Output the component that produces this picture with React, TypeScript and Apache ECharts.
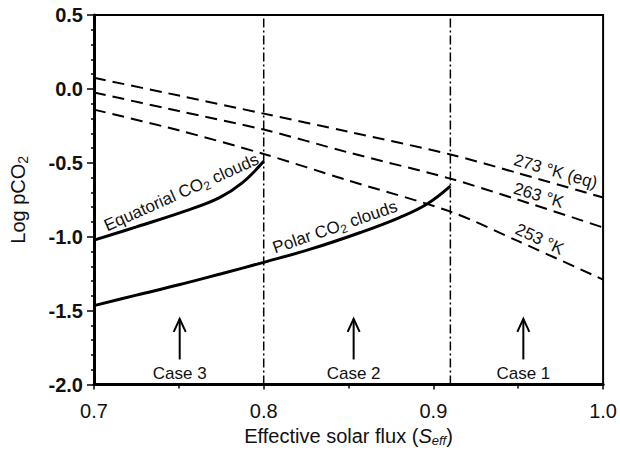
import React, { useEffect, useRef } from "react";
import * as echarts from "echarts";

// ---- data ----
const tempX = [0.7, 0.75, 0.8, 0.85, 0.91, 0.95, 1.0];
const t273Y = [0.075, -0.045, -0.167, -0.29, -0.443, -0.57, -0.735];
const t263Y = [-0.024, -0.15, -0.275, -0.43, -0.607, -0.75, -0.937];
const t253Y = [-0.14, -0.28, -0.44, -0.62, -0.83, -1.03, -1.29];

const equatorialX = [0.7, 0.725, 0.754, 0.774, 0.7875, 0.8];
const equatorialY = [-1.023, -0.933, -0.825, -0.735, -0.634, -0.49];

const polarX = [0.7, 0.725, 0.75, 0.775, 0.8, 0.8275, 0.857, 0.88, 0.896, 0.91];
const polarY = [-1.466, -1.395, -1.325, -1.25, -1.173, -1.084, -0.971, -0.87, -0.78, -0.657];

const boundaries = [0.8, 0.91];

const caseNames = ["Case 3", "Case 2", "Case 1"];
const caseX = [0.7505, 0.853, 0.953];
const arrowBottom = -1.83;
const arrowTop = -1.555;
const caseLabelY = -1.925;

const curveLabels = [
  { pre: "Equatorial CO", sub: "2", post: " clouds", x: 0.7515, y: -0.70, angle: 24 },
  { pre: "Polar CO", sub: "2", post: " clouds", x: 0.842, y: -0.935, angle: 19 },
];
const tempLabels = [
  { text: "273 °K (eq)", x: 0.972, y: -0.558, angle: 16 },
  { text: "263 °K", x: 0.962, y: -0.72, angle: 17 },
  { text: "253 °K", x: 0.9626, y: -1.016, angle: 25 },
];

const FONT = "'Liberation Sans', Arial, Helvetica, sans-serif";
const INK = "#111";

const zip = (xs: number[], ys: number[]) => xs.map((x, i) => [x, ys[i]]);

export default function App() {
  const ref = useRef<HTMLDivElement>(null);

  useEffect(() => {
    document.body.style.margin = "0";
    const chart = echarts.init(ref.current!, null, { renderer: "svg" });

    const dashed = { type: [12, 7] as any, width: 2, color: "#000" };
    const dashDot = { type: [9, 3, 2, 3] as any, width: 1.5, color: "#000" };

    const series: any[] = [
      { name: "273", data: zip(tempX, t273Y), lineStyle: dashed, smooth: 0.3 },
      { name: "263", data: zip(tempX, t263Y), lineStyle: dashed, smooth: 0.3 },
      { name: "253", data: zip(tempX, t253Y), lineStyle: dashed, smooth: 0.3 },
      {
        name: "equatorial",
        data: zip(equatorialX, equatorialY),
        lineStyle: { width: 3, color: "#000" },
        smooth: 0.4,
      },
      {
        name: "polar",
        data: zip(polarX, polarY),
        lineStyle: { width: 3, color: "#000" },
        smooth: 0.4,
      },
      ...boundaries.map((b) => ({
        name: "b" + b,
        data: [
          [b, -2],
          [b, 0.5],
        ],
        lineStyle: dashDot,
      })),
    ].map((s) => ({ type: "line", showSymbol: false, symbol: "none", silent: true, ...s }));

    chart.setOption({
      animation: false,
      grid: {
        left: 92,
        right: 15,
        top: 15,
        bottom: 66,
        show: true,
        borderColor: "#000",
        borderWidth: 2,
      },
      xAxis: {
        type: "value",
        min: 0.7,
        max: 1.0,
        interval: 0.1,
        axisLine: { onZero: false, lineStyle: { color: "#000", width: 3 } },
        axisTick: { length: 5, lineStyle: { color: "#000", width: 1.5 } },
        minorTick: { show: true, splitNumber: 2, length: 4, lineStyle: { color: "#000", width: 1.5 } },
        splitLine: { show: false },
        axisLabel: {
          formatter: (v: number) => v.toFixed(1),
          fontSize: 20,
          color: INK,
          fontFamily: FONT,
          margin: 16,
        },
        name: "{n|Effective solar flux (}{i|S}{s|eff}{n|)}",
        nameLocation: "middle",
        nameGap: 36,
        nameTextStyle: {
          rich: {
            n: { fontSize: 20, fontFamily: FONT, color: INK },
            i: { fontSize: 20, fontFamily: FONT, color: INK, fontStyle: "italic" },
            s: { fontSize: 13, fontFamily: FONT, color: INK, fontStyle: "italic", padding: [10, 0, 0, 0] },
          },
        },
      },
      yAxis: {
        type: "value",
        min: -2.0,
        max: 0.5,
        interval: 0.5,
        axisLine: { onZero: false, lineStyle: { color: "#000", width: 3 } },
        axisTick: { length: 7, lineStyle: { color: "#000", width: 1.5 } },
        minorTick: { show: true, splitNumber: 5, length: 3, lineStyle: { color: "#000", width: 1.5 } },
        splitLine: { show: false },
        axisLabel: {
          formatter: (v: number) => v.toFixed(1),
          fontSize: 20,
          fontWeight: "bold",
          color: INK,
          fontFamily: FONT,
          margin: 11,
        },
        name: "{n|Log pCO}{s|2}",
        nameLocation: "middle",
        nameRotate: 90,
        nameGap: 64,
        nameTextStyle: {
          rich: {
            n: { fontSize: 20, fontFamily: FONT, color: INK },
            s: { fontSize: 14, fontFamily: FONT, color: INK, padding: [10, 0, 0, 0] },
          },
        },
      },
      series,
    });

    const px = (x: number, y: number) => chart.convertToPixel({ gridIndex: 0 }, [x, y]) as number[];
    const deg = Math.PI / 180;
    const graphic: any[] = [];

    curveLabels.forEach((l) => {
      const [x, y] = px(l.x, l.y);
      graphic.push({
        type: "text",
        x,
        y,
        rotation: l.angle * deg,
        silent: true,
        style: {
          text: `{t|${l.pre}}{s|${l.sub}}{t|${l.post}}`,
          align: "center",
          verticalAlign: "middle",
          rich: {
            t: { fontSize: 17, fontFamily: FONT, fill: INK },
            s: { fontSize: 12, fontFamily: FONT, fill: INK, padding: [9, 0, 0, 0] },
          },
        },
      });
    });

    tempLabels.forEach((l) => {
      const [x, y] = px(l.x, l.y);
      graphic.push({
        type: "text",
        x,
        y,
        rotation: -l.angle * deg,
        silent: true,
        style: {
          text: l.text,
          fontSize: 17,
          fontFamily: FONT,
          fill: INK,
          align: "center",
          verticalAlign: "middle",
        },
      });
    });

    caseNames.forEach((name, i) => {
      const [bx, by] = px(caseX[i], arrowBottom);
      const [tx, ty] = px(caseX[i], arrowTop);
      const [lx, ly] = px(caseX[i], caseLabelY);
      graphic.push({
        type: "line",
        silent: true,
        shape: { x1: bx, y1: by, x2: tx, y2: ty },
        style: { stroke: "#000", lineWidth: 2 },
      });
      graphic.push({
        type: "polyline",
        silent: true,
        shape: {
          points: [
            [tx - 6, ty + 13],
            [tx, ty],
            [tx + 6, ty + 13],
          ],
        },
        style: { stroke: "#000", lineWidth: 2, fill: "none" },
      });
      graphic.push({
        type: "text",
        x: lx,
        y: ly,
        silent: true,
        style: {
          text: name,
          fontSize: 17,
          fontFamily: FONT,
          fill: INK,
          align: "center",
          verticalAlign: "middle",
        },
      });
    });

    chart.setOption({ graphic });

    return () => chart.dispose();
  }, []);

  return <div ref={ref} style={{ width: 620, height: 452 }} />;
}
